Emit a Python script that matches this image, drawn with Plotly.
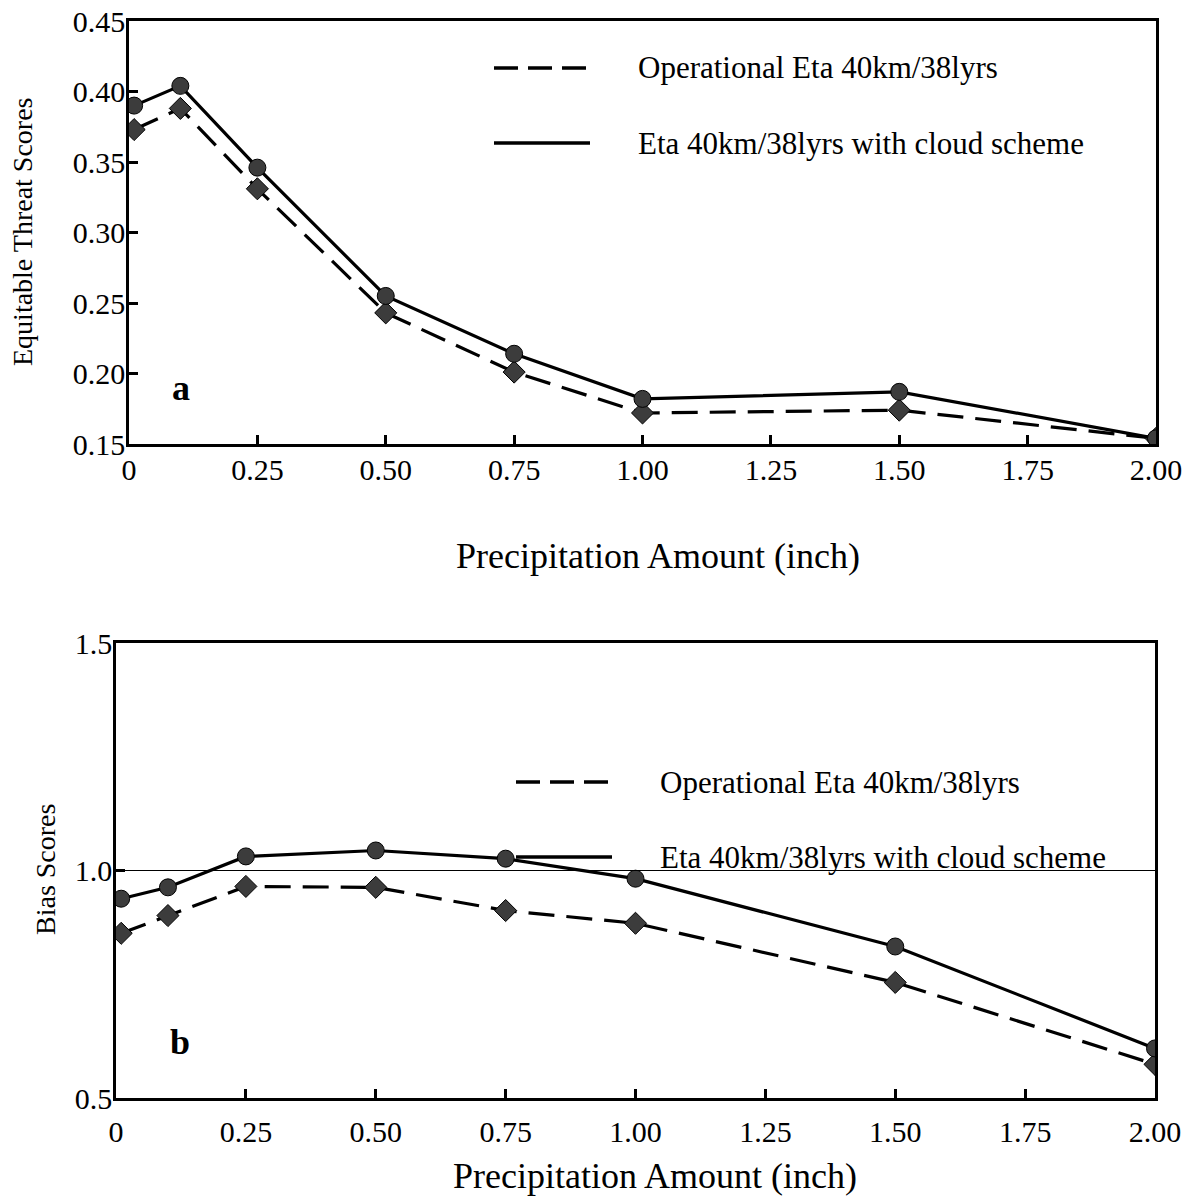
import plotly.graph_objects as go
from plotly.subplots import make_subplots

# ---- data ----
precip = [0.01, 0.10, 0.25, 0.50, 0.75, 1.00, 1.50, 2.00]
ets_operational = [0.373, 0.388, 0.331, 0.243, 0.201, 0.172, 0.174, 0.154]
ets_cloud = [0.390, 0.404, 0.346, 0.255, 0.214, 0.182, 0.187, 0.154]
bias_operational = [0.862, 0.901, 0.965, 0.963, 0.912, 0.884, 0.754, 0.574]
bias_cloud = [0.938, 0.963, 1.031, 1.044, 1.026, 0.982, 0.833, 0.609]

x_tickvals = [0, 0.25, 0.5, 0.75, 1.0, 1.25, 1.5, 1.75, 2.0]
x_ticktext = ["0", "0.25", "0.50", "0.75", "1.00", "1.25", "1.50", "1.75", "2.00"]
ets_tickvals = [0.15, 0.20, 0.25, 0.30, 0.35, 0.40, 0.45]
ets_ticktext = ["0.15", "0.20", "0.25", "0.30", "0.35", "0.40", "0.45"]
bias_tickvals = [0.5, 1.0, 1.5]
bias_ticktext = ["0.5", "1.0", "1.5"]

name_op = "Operational Eta 40km/38lyrs"
name_cl = "Eta 40km/38lyrs with cloud scheme"

W, H = 1189, 1204
ML = 116
MR = W - 1156
MT = 21
MB = H - 1098
PW, PH = W - ML - MR, H - MT - MB


def px(xs):
    return (xs - ML) / PW


def py(ys):
    return (H - MB - ys) / PH


FONT = "Liberation Serif"

fig = make_subplots(rows=2, cols=1, shared_xaxes=False)

line_w = 3.2
mk_col = "#3c3c3c"

for r, (yo, yc) in enumerate([(ets_operational, ets_cloud), (bias_operational, bias_cloud)], start=1):
    fig.add_trace(go.Scatter(x=precip, y=yo, mode="lines+markers", name=name_op,
                             line=dict(color="black", width=line_w, dash="26px,12px"),
                             marker=dict(symbol="diamond", size=17, color=mk_col,
                                         line=dict(color="black", width=1))),
                  row=r, col=1)
    fig.add_trace(go.Scatter(x=precip, y=yc, mode="lines+markers", name=name_cl,
                             line=dict(color="black", width=line_w),
                             marker=dict(symbol="circle", size=17, color=mk_col,
                                         line=dict(color="black", width=1))),
                  row=r, col=1)

axis_common = dict(showline=True, linecolor="black", linewidth=2.5, mirror=True,
                   showgrid=False, zeroline=False, ticks="inside", ticklen=9, tickwidth=3,
                   tickcolor="black", automargin=False,
                   tickfont=dict(family=FONT, size=30, color="black"))

fig.update_xaxes(**axis_common, range=[0, 2.0], tickvals=x_tickvals, ticktext=x_ticktext)
fig.update_yaxes(**axis_common, ticklabelstandoff=-5)
fig.update_layout(
    xaxis=dict(domain=[px(129), px(1156)], ticklabelstandoff=-3),
    xaxis2=dict(domain=[px(116), px(1155)], ticklabelstandoff=5),
    yaxis=dict(domain=[py(444), py(21)], range=[0.15, 0.45],
               tickvals=ets_tickvals, ticktext=ets_ticktext),
    yaxis2=dict(domain=[py(1098), py(643)], range=[0.5, 1.5],
                tickvals=bias_tickvals, ticktext=bias_ticktext),
)

# reference line at 1.0 in bias panel
fig.add_hline(y=1.0, line=dict(color="black", width=1), row=2, col=1)

shapes = []
annotations = []

# legends (drawn as samples + text)
for (yd, ys, x0, x1, xt) in [(68, 143, 494, 590, 636), (782, 857, 516, 612, 658)]:
    shapes.append(dict(type="line", xref="paper", yref="paper", x0=px(x0), x1=px(x1),
                       y0=py(yd), y1=py(yd),
                       line=dict(color="black", width=3.5, dash="24px,10px")))
    shapes.append(dict(type="line", xref="paper", yref="paper", x0=px(x0), x1=px(x1),
                       y0=py(ys), y1=py(ys),
                       line=dict(color="black", width=3.5)))
    annotations.append(dict(text=name_op, xref="paper", yref="paper", x=px(xt), y=py(yd),
                            xanchor="left", yanchor="middle", showarrow=False,
                            font=dict(family=FONT, size=31, color="black")))
    annotations.append(dict(text=name_cl, xref="paper", yref="paper", x=px(xt), y=py(ys),
                            xanchor="left", yanchor="middle", showarrow=False,
                            font=dict(family=FONT, size=31, color="black")))

# panel letters
annotations.append(dict(text="<b>a</b>", xref="paper", yref="paper", x=px(181), y=py(388),
                        xanchor="center", yanchor="middle", showarrow=False,
                        font=dict(family=FONT, size=36, color="black")))
annotations.append(dict(text="<b>b</b>", xref="paper", yref="paper", x=px(180), y=py(1042),
                        xanchor="center", yanchor="middle", showarrow=False,
                        font=dict(family=FONT, size=36, color="black")))

# axis titles
annotations.append(dict(text="Precipitation Amount (inch)", xref="paper", yref="paper",
                        x=px(658), y=py(556), xanchor="center", yanchor="middle", showarrow=False,
                        font=dict(family=FONT, size=36, color="black")))
annotations.append(dict(text="Precipitation Amount (inch)", xref="paper", yref="paper",
                        x=px(655), y=py(1176), xanchor="center", yanchor="middle", showarrow=False,
                        font=dict(family=FONT, size=36, color="black")))
annotations.append(dict(text="Equitable Threat Scores", xref="paper", yref="paper",
                        x=px(23), y=py(232), xanchor="center", yanchor="middle", showarrow=False,
                        textangle=-90, font=dict(family=FONT, size=28, color="black")))
annotations.append(dict(text="Bias Scores", xref="paper", yref="paper",
                        x=px(45), y=py(870), xanchor="center", yanchor="middle", showarrow=False,
                        textangle=-90, font=dict(family=FONT, size=28, color="black")))

fig.update_layout(
    width=W, height=H,
    margin=dict(l=ML, r=MR, t=MT, b=MB, autoexpand=False),
    paper_bgcolor="white", plot_bgcolor="white",
    showlegend=False,
    shapes=list(fig.layout.shapes) + shapes,
    annotations=annotations,
)

fig.write_html("out.html",
               config={"displayModeBar": False},
               post_script="document.body.style.margin='0';document.body.style.overflow='hidden';")
